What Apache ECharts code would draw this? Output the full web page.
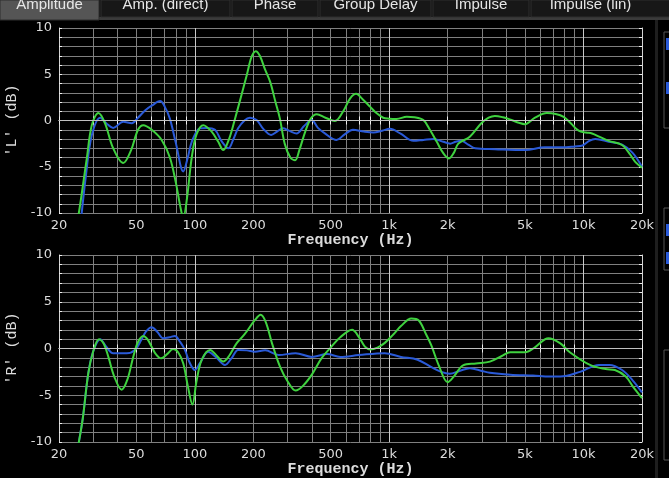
<!DOCTYPE html>
<html><head><meta charset="utf-8">
<script src="https://cdn.jsdelivr.net/npm/echarts@6/dist/echarts.min.js"></script>
<style>html,body{margin:0;padding:0;background:#000;overflow:hidden}#c{width:669px;height:478px;}</style>
</head><body><div id="c"></div>
<script>
const gridFreqs = [20,30,40,50,60,70,80,90,100,200,300,400,500,600,700,800,900,1000,2000,3000,4000,5000,6000,7000,8000,9000,10000,20000];
const majorFreqs = [100,1000,10000];
const labelFreqs = [20,50,100,200,500,1000,2000,5000,10000,20000];
const tabLabels = ['Amplitude','Amp. (direct)','Phase','Group Delay','Impulse','Impulse (lin)'];
const panelNames = ["'L' (dB)", "'R' (dB)"];

const leftGreen = [[24.8,-10.6],[25.3,-10],[27.8,-4.1],[29.5,-0.5],[31.9,0.8],[34.5,-0.3],[38,-3.0],[42.8,-4.6],[47,-3.2],[51,-1.0],[54.3,-0.5],[60,-1.0],[67.5,-2.1],[74.4,-4.0],[80,-6.8],[84,-9.2],[87.2,-10.5],[91,-8.5],[96.4,-4.0],[102,-1.5],[110.6,-0.5],[122,-1.2],[132,-2.3],[140,-3.2],[150,-2.0],[161,0.2],[173,2.6],[185,4.9],[196,6.9],[206,7.5],[216,7.0],[230,5.5],[244,4.2],[260,2.0],[274,0.2],[290,-2.5],[310,-4.0],[328,-4.3],[345,-3.2],[370,-1.2],[395,0.2],[424,0.67],[470,0.3],[526,-0.05],[580,1.0],[630,2.4],[676,2.9],[730,2.3],[797,1.5],[860,0.8],[932,0.3],[1000,0.2],[1092,0.16],[1232,0.4],[1350,0.35],[1500,0.05],[1620,-1.0],[1758,-2.3],[1880,-3.4],[2030,-4.1],[2150,-3.5],[2270,-2.5],[2600,-1.75],[2980,-0.3],[3250,0.3],[3500,0.5],[3850,0.35],[4260,0.05],[4650,-0.25],[5000,-0.4],[5630,0.3],[6470,0.8],[7200,0.7],[7900,0.4],[8600,-0.3],[9440,-1.1],[10300,-1.3],[11060,-1.4],[12200,-1.8],[13480,-2.2],[15780,-2.65],[17400,-3.7],[18500,-4.5],[20000,-5.1]];
const leftBlue = [[26,-10.6],[27.5,-6.0],[29.5,-1.6],[32.6,0.3],[35,-0.3],[38,-0.8],[42.8,-0.13],[47.4,-0.3],[51,0.3],[55.6,1.1],[60,1.6],[66.3,2.1],[70,1.5],[74.4,0.2],[80,-2.5],[87.2,-5.5],[92,-4.0],[96.4,-2.3],[106,-0.85],[115,-0.8],[127,-1.0],[137,-2.2],[149,-3.0],[158,-2.0],[167,-0.85],[180,0],[192,0.3],[208,0.05],[225,-0.9],[247,-1.57],[265,-1.2],[284,-0.85],[305,-1.1],[334,-1.4],[365,-0.6],[399,0.05],[430,-0.8],[467,-1.4],[536,-2.1],[590,-1.5],[651,-1.0],[740,-1.2],[829,-1.3],[920,-1.1],[1009,-0.9],[1140,-1.4],[1333,-2.2],[1500,-2.1],[1688,-2.0],[1900,-2.3],[2060,-2.5],[2200,-2.3],[2350,-2.2],[2550,-2.6],[2770,-3.0],[3500,-3.1],[5000,-3.2],[6320,-2.9],[7750,-2.9],[9000,-2.8],[9880,-2.7],[10700,-2.2],[11500,-2.0],[13500,-2.3],[15800,-2.6],[17900,-3.5],[20000,-5.0]];
const rightGreen = [[24.8,-10.8],[25.2,-10.2],[26.5,-7.5],[28.3,-2.65],[30,-0.3],[32.1,1.0],[34,0.5],[35.9,-0.9],[38.5,-3.0],[42,-4.4],[45,-3.3],[48.2,-0.9],[51,0.7],[54.3,1.34],[57,1.0],[59.9,0.2],[63,-0.6],[67,-1.05],[72,-0.6],[77.3,-0.05],[82,-0.4],[87.2,-1.6],[92,-4.0],[97.2,-6.0],[102,-3.5],[108.6,-1.2],[119.9,-0.15],[130,-0.8],[140,-1.4],[150,-0.8],[164,0.55],[180,1.5],[204,3.05],[218,3.6],[232,2.8],[250,0.5],[275,-2.0],[300,-3.5],[330,-4.5],[360,-4.0],[400,-2.8],[450,-1.0],[500,0.1],[560,1.2],[644,2.0],[700,1.2],[750,0.2],[800,-0.1],[870,0.1],[950,0.6],[1050,1.5],[1150,2.4],[1300,3.2],[1420,3.0],[1550,1.5],[1650,0.3],[1800,-1.8],[2000,-3.6],[2150,-3.0],[2400,-1.8],[2800,-1.6],[3300,-1.4],[3800,-0.8],[4200,-0.4],[5000,-0.4],[5600,0.1],[6600,1.1],[7600,0.55],[8500,-0.4],[10800,-1.76],[13000,-2.2],[14500,-2.3],[16500,-3.0],[18000,-4.1],[20000,-5.3]];
const rightBlue = [[24.8,-10.8],[25.2,-10.2],[26.5,-7.5],[28.3,-2.65],[30,-0.3],[32.6,1.0],[35,0.2],[38,-0.5],[44.6,-0.5],[49.2,-0.15],[53,0.9],[56,1.8],[59.9,2.27],[64,1.8],[68.8,1.1],[74,1.2],[78.9,1.34],[84,0.7],[88.9,-0.15],[94,-1.5],[100,-2.3],[106,-1.6],[117,-0.35],[128,-0.9],[143,-1.76],[155,-1.0],[167,-0.15],[185,-0.2],[204,-0.35],[230,-0.2],[270,-0.7],[330,-0.5],[400,-0.9],[480,-0.6],[560,-0.9],[700,-0.7],[950,-0.5],[1150,-0.9],[1400,-1.2],[1650,-2.0],[1850,-2.5],[2050,-2.7],[2300,-2.4],[2600,-2.1],[3000,-2.4],[3300,-2.6],[4200,-2.8],[5500,-2.9],[6700,-3.0],[7600,-3.0],[9600,-2.5],[12000,-1.76],[13600,-1.76],[15800,-2.3],[17900,-3.4],[20000,-4.7]];

const GREEN = '#3fd23f', BLUE = '#2a5ad8';
const GRID = '#808080', BORDER = '#d4d4d4', TXT = '#dcdcdc';
const fmt = v => v >= 1000 ? (v/1000) + 'k' : String(v);

const grids = [
  {left:59, right:27, top:28, height:185, outerBoundsMode:'none', containLabel:false},
  {left:59, right:27, top:255, height:187, outerBoundsMode:'none', containLabel:false}
];
const xAxis = [], yAxis = [], series = [];
grids.forEach((g, gi) => {
  const base = {gridIndex:gi, type:'log', logBase:10, min:20, max:20000};
  xAxis.push(Object.assign({}, base, {
    position:'bottom',
    name:'Frequency (Hz)', nameLocation:'middle', nameGap:16,
    nameTextStyle:{color:TXT, fontFamily:'Liberation Mono', fontSize:15, fontWeight:'bold'},
    axisLine:{show:true, lineStyle:{color:BORDER, width:1}},
    axisTick:{show:true, inside:true, length:4, customValues:gridFreqs, lineStyle:{color:'#eeeeee'}},
    axisLabel:{show:true, customValues:labelFreqs, formatter:fmt, color:TXT, fontSize:13, fontFamily:'DejaVu Sans', margin:6},
    splitLine:{show:true, lineStyle:{color:GRID, width:1}}
  }));
  xAxis.push(Object.assign({}, base, {
    position:'top',
    axisLine:{show:true, lineStyle:{color:BORDER, width:1}},
    axisTick:{show:true, inside:true, length:4, customValues:gridFreqs, lineStyle:{color:'#eeeeee'}},
    axisLabel:{show:false}, splitLine:{show:false}
  }));
  xAxis.push(Object.assign({}, base, {
    axisLine:{show:false}, axisTick:{show:false, customValues:majorFreqs},
    axisLabel:{show:false}, splitLine:{show:true, lineStyle:{color:'#c8c8c8', width:1}}
  }));
  yAxis.push({
    gridIndex:gi, type:'value', min:-10, max:10, interval:1, position:'left',
    name:panelNames[gi], nameLocation:'middle', nameGap:37, nameRotate:90,
    nameTextStyle:{color:TXT, fontFamily:'Liberation Mono', fontSize:15},
    axisLine:{show:true, lineStyle:{color:BORDER}},
    axisTick:{show:true, inside:true, length:3, lineStyle:{color:'#eeeeee'}},
    axisLabel:{color:TXT, fontSize:13, fontFamily:'DejaVu Sans', margin:7, formatter:v => (v % 5 === 0 ? String(v) : '')},
    splitLine:{show:true, lineStyle:{color:GRID, width:1}}
  });
  yAxis.push({
    gridIndex:gi, type:'value', min:-10, max:10, interval:1, position:'right',
    axisLine:{show:true, lineStyle:{color:BORDER}},
    axisTick:{show:true, inside:true, length:3, lineStyle:{color:'#eeeeee'}},
    axisLabel:{show:false}, splitLine:{show:false}
  });
});

const sets = [[leftBlue, leftGreen],[rightBlue, rightGreen]];
sets.forEach((pair, gi) => {
  series.push({
    type:'line', xAxisIndex:gi*3, yAxisIndex:gi*2, data:pair[0], smooth:0.35, showSymbol:false,
    lineStyle:{color:BLUE, width:2}, itemStyle:{color:BLUE}, z:3, clip:true,
    markLine:{silent:true, symbol:'none', label:{show:false}, lineStyle:{color:'#c0c0c0', type:'solid', width:1}, data:[{yAxis:0}]}
  });
  series.push({
    type:'line', xAxisIndex:gi*3, yAxisIndex:gi*2, data:pair[1], smooth:0.35, showSymbol:false,
    lineStyle:{color:GREEN, width:2}, itemStyle:{color:GREEN}, z:4, clip:true
  });
});

// tab bar
const tabs = [[0,99],[101,230],[232,318],[320,431],[433,529],[531,690]];
const graphic = [
  {type:'rect', shape:{x:0,y:0,width:669,height:18}, style:{fill:'#111'}, z:0},
  {type:'rect', shape:{x:0,y:17,width:669,height:3}, style:{fill:'#3a3a3a'}, z:0}
];
tabs.forEach((t, i) => {
  graphic.push({type:'rect', shape:{x:t[0], y:0, width:t[1]-t[0], height:i===0?20:17},
    style:{fill:i===0?'#555':'#171717', stroke:'#2e2e2e', lineWidth:1}, z:1});
  graphic.push({type:'text', x:(t[0]+t[1])/2 + (i===5?-20:0), y:5,
    style:{text:tabLabels[i], fill:'#e6e6e6', font:'15px "Liberation Sans", Arial, sans-serif', align:'center', verticalAlign:'middle'}, z:2});
});
// right edge partial panels
graphic.push({type:'rect', shape:{x:655,y:20,width:3,height:458}, style:{fill:'#1e1e1e'}, z:1});
graphic.push({type:'rect', shape:{x:664,y:32,width:20,height:96}, style:{fill:'#000', stroke:'#555', lineWidth:1}, z:1});
graphic.push({type:'rect', shape:{x:666,y:38,width:4,height:12}, style:{fill:BLUE}, z:2});
graphic.push({type:'rect', shape:{x:666,y:82,width:4,height:12}, style:{fill:BLUE}, z:2});
graphic.push({type:'rect', shape:{x:664,y:208,width:20,height:62}, style:{fill:'#000', stroke:'#555', lineWidth:1}, z:1});
graphic.push({type:'rect', shape:{x:666,y:224,width:4,height:12}, style:{fill:BLUE}, z:2});
graphic.push({type:'rect', shape:{x:666,y:252,width:4,height:12}, style:{fill:BLUE}, z:2});
graphic.push({type:'rect', shape:{x:664,y:350,width:20,height:110}, style:{fill:'#000', stroke:'#555', lineWidth:1}, z:1});

const chart = echarts.init(document.getElementById('c'), null, {renderer:'canvas'});
chart.setOption({
  backgroundColor:'#000',
  animation:false,
  grid:grids,
  xAxis, yAxis, series, graphic
});
</script></body></html>
